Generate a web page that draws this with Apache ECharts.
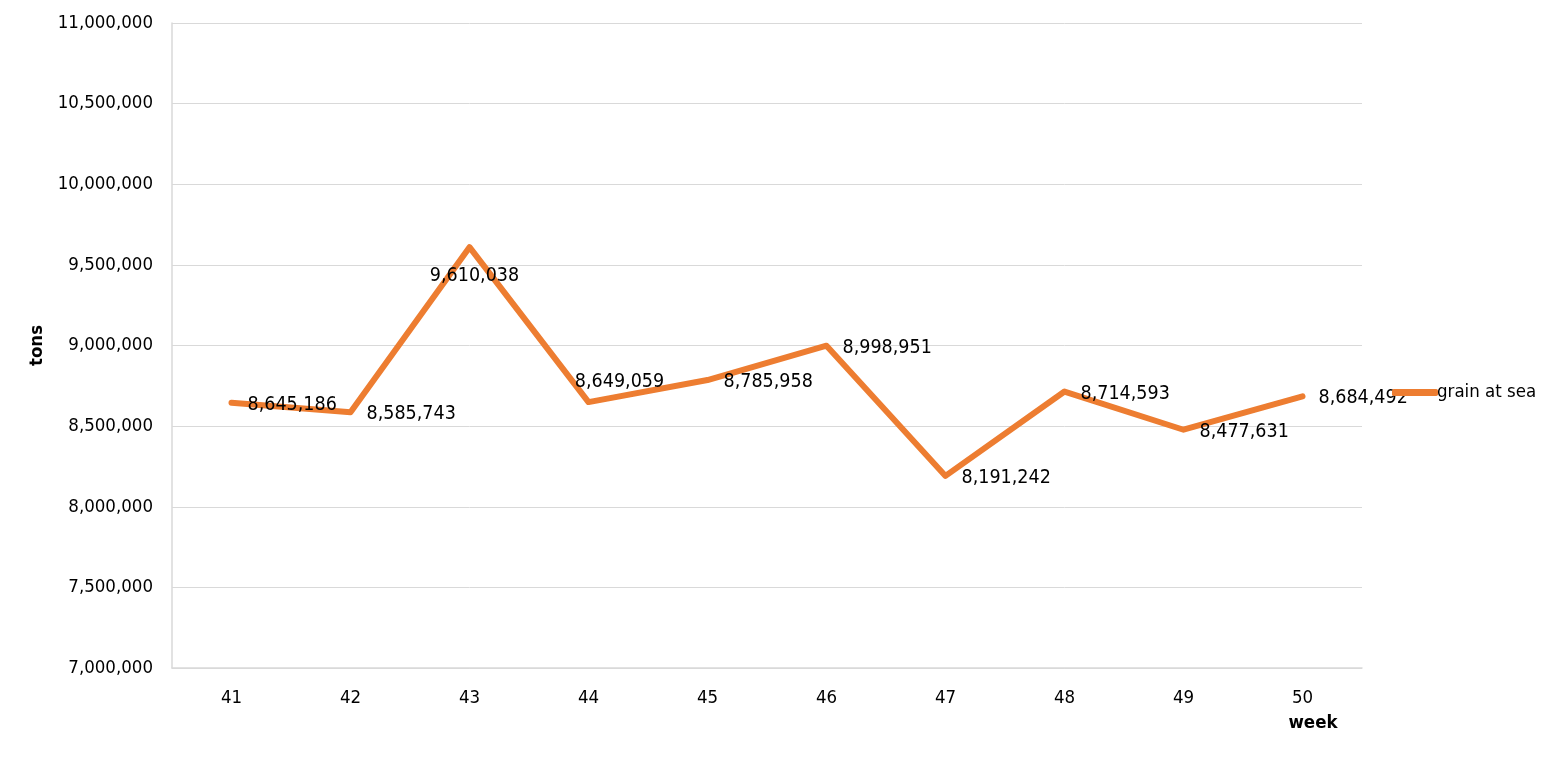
<!DOCTYPE html>
<html>
<head>
<meta charset="utf-8">
<script src="https://cdn.jsdelivr.net/npm/echarts@6/dist/echarts.min.js"></script>
<style>html,body{margin:0;padding:0;background:#fff}#c{width:1560px;height:762px}</style>
</head>
<body>
<div id="c"></div>
<script>
var weeks = ['41','42','43','44','45','46','47','48','49','50'];
var grainAtSea = [8645186, 8585743, 9610038, 8649059, 8785958, 8998951, 8191242, 8714593, 8477631, 8684492];
var seriesName = 'grain at sea';
var yAxisName = 'tons';
var xAxisName = 'week';

var FONT = 'DejaVu Sans Condensed';
var FS = 18.5;
var LFS = 19.5;
function fmt(v){ return Number(v).toLocaleString('en-US'); }

var labelPos = {
  2: {position:'bottom', distance:19, offset:[5,0]},
  3: {position:'top', distance:10, offset:[31,0]}
};
var data = grainAtSea.map(function(v,i){
  var d = {value:v};
  if (labelPos[i]) d.label = labelPos[i];
  return d;
});

var chart = echarts.init(document.getElementById('c'));
chart.setOption({
  animation:false,
  textStyle:{fontFamily:FONT},
  grid:{left:172, right:198, top:23, bottom:94, containLabel:false},
  legend:{
    left:1387, top:378, orient:'vertical',
    itemWidth:46, itemHeight:7, itemGap:8,
    textStyle:{fontFamily:FONT, fontSize:FS, color:'#000', padding:[0,0,0,-6]},
    data:[{name:seriesName, icon:'roundRect'}]
  },
  xAxis:{
    type:'category', data:weeks, boundaryGap:true,
    name:xAxisName, nameLocation:'end', nameGap:-49,
    nameTextStyle:{fontFamily:FONT, fontSize:FS, fontWeight:'bold', color:'#000', align:'center', verticalAlign:'top', padding:[46,0,0,0]},
    axisLine:{show:true, lineStyle:{color:'#d9d9d9', width:1.5}},
    axisTick:{show:false},
    axisLabel:{fontFamily:FONT, fontSize:FS, color:'#000', margin:21}
  },
  yAxis:{
    type:'value', min:7000000, max:11000000, interval:500000,
    name:yAxisName, nameLocation:'middle', nameGap:124, nameRotate:90,
    nameTextStyle:{fontFamily:FONT, fontSize:FS, fontWeight:'bold', color:'#000'},
    axisLine:{show:true, lineStyle:{color:'#d9d9d9', width:1.5}},
    axisTick:{show:false},
    splitLine:{lineStyle:{color:'#d9d9d9', width:1}},
    axisLabel:{fontFamily:FONT, fontSize:FS, color:'#000', margin:19, formatter:fmt}
  },
  series:[{
    name:seriesName, type:'line', data:data,
    symbol:'circle', symbolSize:0.1, showSymbol:true,
    lineStyle:{color:'#ED7D31', width:6, cap:'round', join:'round'},
    itemStyle:{color:'#ED7D31'},
    label:{show:true, position:'right', distance:16, offset:[0,2], fontFamily:FONT, fontSize:LFS, color:'#000', formatter:function(p){return fmt(p.value);}}
  }]
});
</script>
</body>
</html>
